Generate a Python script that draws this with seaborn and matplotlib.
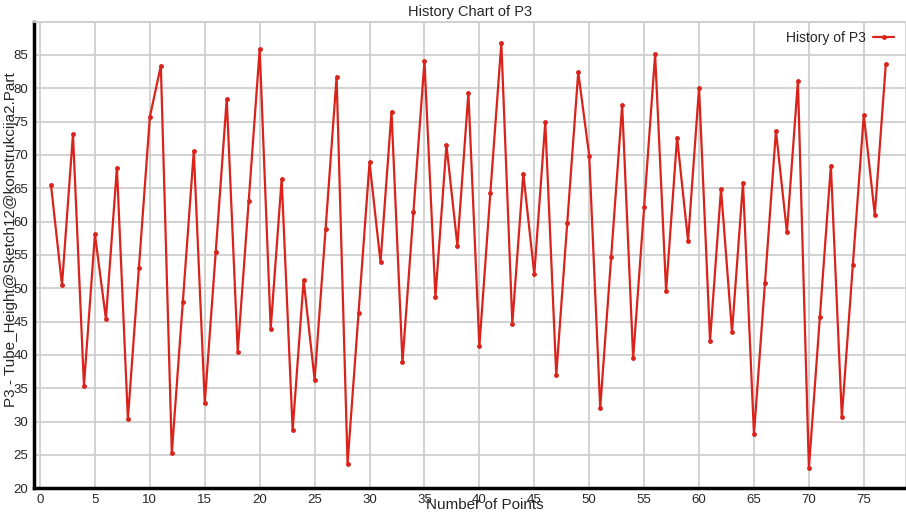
import pandas as pd
import matplotlib
matplotlib.use("Agg")
import matplotlib.pyplot as plt
import seaborn as sns

# values
points = list(range(1, 78))
p3_values = [
    65.5, 50.5, 73.1, 35.4, 58.1, 45.4, 68.1, 30.4, 53.0, 75.7,
    83.4, 25.3, 47.9, 70.6, 32.8, 55.5, 78.4, 40.5, 63.1, 85.9,
    43.9, 66.4, 28.7, 51.2, 36.3, 58.9, 81.7, 23.7, 46.3, 68.9,
    53.9, 76.5, 38.9, 61.5, 84.1, 48.7, 71.5, 56.4, 79.3, 41.3,
    64.3, 86.8, 44.7, 67.2, 52.1, 74.9, 37.0, 59.8, 82.4, 69.9,
    32.0, 54.7, 77.5, 39.5, 62.2, 85.1, 49.6, 72.6, 57.1, 80.1,
    42.1, 64.9, 43.4, 65.8, 28.1, 50.8, 73.6, 58.4, 81.1, 23.0,
    45.7, 68.4, 30.7, 53.5, 76.0, 61.0, 83.6,
]
x_ticks = list(range(0, 80, 5))
y_ticks = list(range(20, 90, 5))

sns.set_style("whitegrid", {"grid.color": "#cfcfcf"})
plt.rcParams['font.family'] = ['Liberation Sans', 'DejaVu Sans']

data = pd.DataFrame({"Number of Points": points, "P3": p3_values})

fig = plt.figure(figsize=(9.06, 5.15), dpi=100)
ax = fig.add_axes([0.0375, 0.052, 0.962, 0.906])

sns.lineplot(data=data, x="Number of Points", y="P3", ax=ax,
             color="#d9231b", linewidth=1.6, marker="o", markersize=3.5,
             markeredgewidth=0, label="History of P3")

ax.set_xlim(-0.55, 78.8)
ax.set_ylim(20, 90)
ax.set_xticks(x_ticks)
ax.set_yticks(y_ticks + [90])
ax.set_yticklabels([str(v) for v in y_ticks] + [""])
ax.grid(True, color="#cfcfcf", linewidth=1.3)
ax.tick_params(axis="both", labelsize=9.5, length=0, pad=4)

for side in ["left", "bottom"]:
    ax.spines[side].set_color("black")
    ax.spines[side].set_linewidth(2.5)
for side in ["top", "right"]:
    ax.spines[side].set_color("#cfcfcf")
    ax.spines[side].set_linewidth(1.3)

ax.set_title("History Chart of P3", fontsize=10.5, pad=4)
ax.set_ylabel("P3 - Tube_Height@Sketch12@konstrukcija2.Part", fontsize=11)
ax.yaxis.set_label_coords(-0.018, 0.532)
ax.set_xlabel("Number of Points", fontsize=11)
ax.xaxis.set_label_coords(0.517, -0.036)
ax.xaxis.label.set_va("center")

ax.legend(loc="upper right", frameon=False, markerfirst=False, fontsize=10,
          handlelength=1.5, handletextpad=0.5, borderaxespad=0.3,
          bbox_to_anchor=(0.998, 1.0))

fig.savefig("out.png", dpi=100)
